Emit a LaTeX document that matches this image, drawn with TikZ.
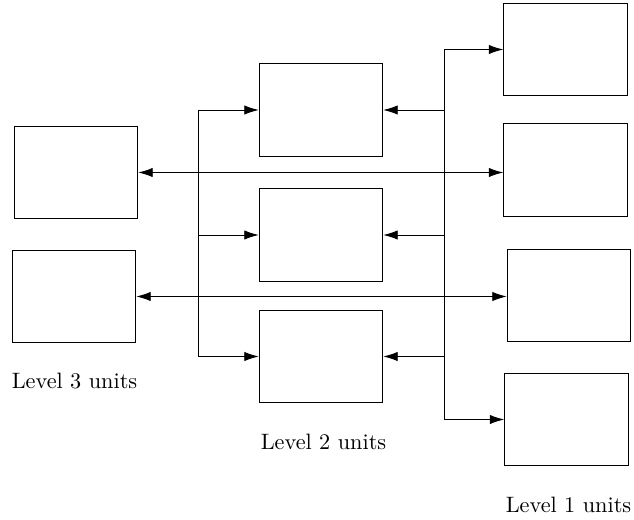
\documentclass[tikz,border=0pt]{standalone}
\usepackage{tikz}
\usetikzlibrary{arrows.meta, positioning, calc}
\tikzset{unit/.style={draw, minimum width=1.95cm, minimum height=1.46cm, inner sep=0pt}}
\begin{document}
\begin{tikzpicture}[x=0.01577cm, y=-0.01577cm, >={Latex[length=6.5pt,width=4.2pt]}]
\useasboundingbox (0,0) rectangle (634,520);
% level 1 units
\node[unit] (U1a) at (565.5,49.5) {};
\node[unit] (U1b) at (565.5,170) {};
\node[unit] (U1c) at (569,295.5) {};
\node[unit] (U1d) at (566.5,419.5) {};
% level 2 units
\node[unit] (U2a) at (321,110) {};
\node[unit] (U2b) at (321,235) {};
\node[unit] (U2c) at (321,356.5) {};
% level 3 units
\node[unit] (U3a) at (76,172.5) {};
\node[unit] (U3b) at (74,296.5) {};
% labels
\node (T1) at (568.5,505) {Level 1 units};
\node (T2) at (323.5,442) {Level 2 units};
\node (T3) at (74.5,381) {Level 3 units};
% buses
\coordinate (BusL) at (198,0);
\coordinate (BusR) at (444,0);
\draw[->] (BusL |- U2b.west) |- (U2a.west);
\draw[->] (BusL |- U2b.west) |- (U2c.west);
\draw[->] (BusL |- U2b.west) -- (U2b.west);
\draw[->] (BusR |- U2b.east) |- (U1a.west);
\draw[->] (BusR |- U2b.east) |- (U1d.west);
\draw[->] (BusR |- U2a.east) -- (U2a.east);
\draw[->] (BusR |- U2b.east) -- (U2b.east);
\draw[->] (BusR |- U2c.east) -- (U2c.east);
% links level 3 -- level 1
\draw[<->] (U3a.east) -- (U3a.east -| U1b.west);
\draw[<->] (U3b.east) -- (U3b.east -| U1c.west);
\end{tikzpicture}
\end{document}
